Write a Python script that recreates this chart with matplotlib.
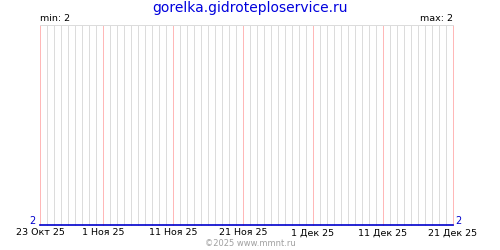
import matplotlib
matplotlib.use('Agg')
import matplotlib.pyplot as plt
import matplotlib.transforms as mtransforms
import pandas as pd

site = 'gorelka.gidroteploservice.ru'
dates = pd.to_datetime(['2025-10-23', '2025-12-21'])
values = [2, 2]
tick_dates = pd.to_datetime(['2025-10-23', '2025-11-01', '2025-11-11', '2025-11-21',
                             '2025-12-01', '2025-12-11', '2025-12-21'])
tick_labels = ['23 Окт 25', '1 Ноя 25', '11 Ноя 25', '21 Ноя 25',
               '1 Дек 25', '11 Дек 25', '21 Дек 25']
vmin, vmax = min(values), max(values)

plt.rcParams['font.family'] = ['DejaVu Sans']

fig = plt.figure(figsize=(5, 2.5), dpi=100)
ax = fig.add_axes([0.08, 0.1, 0.826, 0.8])

# daily grid, pink on labelled days
for d in pd.date_range(dates[0], dates[-1], freq='D'):
    pink = d in tick_dates
    ax.axvline(d, color='#ffb8b8' if pink else '#dcdcdc', lw=0.72, snap=True,
               zorder=2 if pink else 1, clip_on=False)

ax.plot(dates, values, color='#0000cc', lw=1.2, snap=True, zorder=3,
        clip_on=False)

ax.set_xlim(dates[0], dates[-1])
ax.set_ylim(vmin, vmin + 1)
for s in ['left', 'right', 'bottom']:
    ax.spines[s].set_visible(False)
ax.spines['top'].set_color('#dcdcdc')
ax.spines['top'].set_linewidth(0.72)

ax.set_xticks(tick_dates)
ax.set_xticklabels(tick_labels, fontsize=6.8)
ax.tick_params(axis='x', length=0, pad=2.5)
ax.set_yticks([])

ax.text(0, 1.01, 'min: %d' % vmin, transform=ax.transAxes, fontsize=6.8,
        ha='left', va='bottom')
ax.text(1, 1.01, 'max: %d' % vmax, transform=ax.transAxes, fontsize=6.8,
        ha='right', va='bottom')
up = mtransforms.offset_copy(ax.transAxes, fig=fig, y=1, units='points')
ax.text(-0.012, 0, str(values[0]), transform=up, fontsize=7,
        color='#0000cc', ha='right', va='baseline')
ax.text(1.005, 0, str(values[-1]), transform=up, fontsize=7,
        color='#0000cc', ha='left', va='baseline')

fig.text(0.5, 0.968, site, fontsize=10, color='#0000dd', ha='center', va='center')
fig.text(0.5, 0.028, '©2025 www.mmnt.ru', fontsize=6, color='#a0a0a0',
         ha='center', va='center')

fig.savefig('out.png', dpi=100)
